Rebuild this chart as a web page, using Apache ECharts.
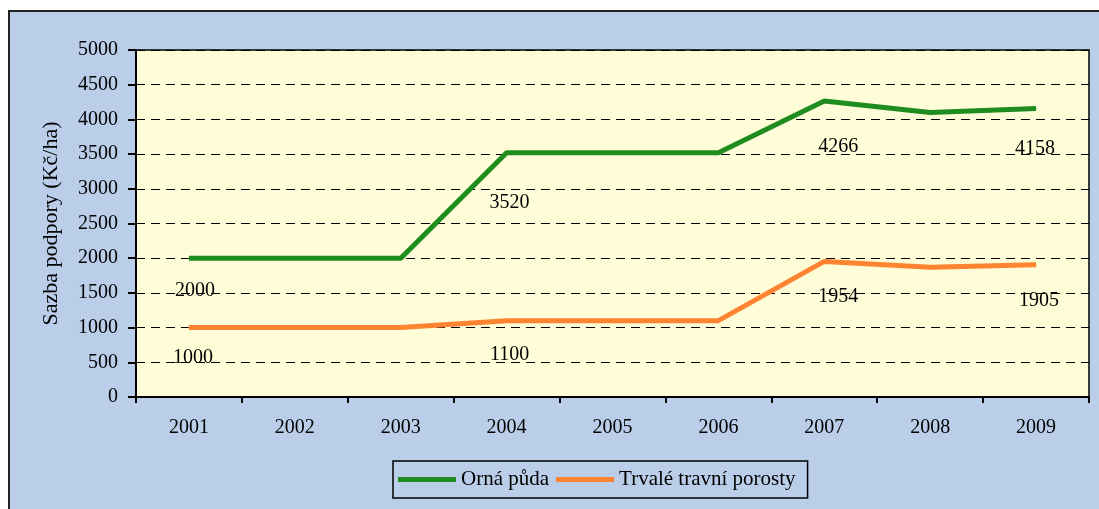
<!DOCTYPE html>
<html>
<head>
<meta charset="utf-8">
<script src="https://cdn.jsdelivr.net/npm/echarts@6/dist/echarts.min.js"></script>
<style>
  html, body { margin: 0; padding: 0; background: #fff; overflow: hidden; }
  #frame {
    position: absolute; left: 8px; top: 10px; width: 1100px; height: 510px;
    background: #bacde9; border: 2px solid #222;
  }
  #chart { position: absolute; left: 0; top: 0; width: 1099px; height: 509px; }
</style>
</head>
<body>
<div id="frame"></div>
<div id="chart"></div>
<script>
// data
const years = ['2001', '2002', '2003', '2004', '2005', '2006', '2007', '2008', '2009']
const ornaPuda = [2000, 2000, 2000, 3520, 3520, 3520, 4266, 4100, 4158]
const travniPorosty = [1000, 1000, 1000, 1100, 1100, 1100, 1954, 1870, 1905]
const labeledPoints = [0, 3, 6, 8]
const yTicks = [0, 500, 1000, 1500, 2000, 2500, 3000, 3500, 4000, 4500, 5000]

// label placement (styling only): [distance below point, x shift]
const ornaLabelPos = { 0: [22, 6], 3: [40, 3], 6: [35, 14], 8: [30, -1] }
const travniLabelPos = { 0: [20, 4], 3: [24, 3], 6: [25, 14], 8: [25, 3] }

const font = '"Liberation Serif", "Times New Roman", serif'

function buildData(values, placement) {
  return values.map((v, i) => {
    if (!labeledPoints.includes(i)) return { value: v, label: { show: false } }
    const [dist, dx] = placement[i]
    return {
      value: v,
      label: {
        show: true,
        position: 'bottom',
        distance: dist,
        offset: [dx, 0],
      },
    }
  })
}

function seriesOf(name, color, values, placement) {
  return {
    name,
    type: 'line',
    symbol: 'circle',
    symbolSize: 1,
    showAllSymbol: true,
    itemStyle: { color },
    color,
    lineStyle: { width: 5, color },
    label: {
      show: false,
      color: '#000',
      fontFamily: font,
      fontSize: 20,
      formatter: (p) => String(p.value),
    },
    emphasis: { disabled: true },
    data: buildData(values, placement),
  }
}

const chart = echarts.init(document.getElementById('chart'))

chart.setOption({
  animation: false,
  backgroundColor: 'transparent',
  grid: {
    left: 136,
    top: 50,
    width: 953,
    height: 347,
    show: true,
    backgroundColor: '#fffdd8',
    borderColor: '#000',
    borderWidth: 1.5,
  },
  legend: {
    left: 393,
    top: 461,
    padding: [8, 12, 8, 5],
    itemGap: 7,
    itemWidth: 58,
    itemHeight: 5,
    icon: 'rect',
    borderColor: '#000',
    borderWidth: 1.5,
    textStyle: { fontFamily: font, fontSize: 21, color: '#000' },
    data: ['Orná půda', 'Trvalé travní porosty'],
  },
  xAxis: {
    type: 'category',
    data: years,
    boundaryGap: true,
    axisLine: { lineStyle: { color: '#000', width: 2 } },
    axisTick: { show: true, length: 6, lineStyle: { color: '#000', width: 2 } },
    axisLabel: { color: '#000', fontFamily: font, fontSize: 20, margin: 21 },
    splitLine: { show: false },
  },
  yAxis: {
    type: 'value',
    min: yTicks[0],
    max: yTicks[yTicks.length - 1],
    interval: 500,
    name: 'Sazba podpory (Kč/ha)',
    nameLocation: 'middle',
    nameGap: 74,
    nameTextStyle: { fontFamily: font, fontSize: 22, color: '#000' },
    axisLine: { show: true, lineStyle: { color: '#000', width: 2 } },
    axisTick: { show: true, length: 8, lineStyle: { color: '#000', width: 2 } },
    axisLabel: {
      color: '#000',
      fontFamily: font,
      fontSize: 20,
      margin: 18,
      formatter: (v) => String(v),
    },
    splitLine: { lineStyle: { color: '#000', width: 1, type: [9, 6] } },
  },
  series: [
    seriesOf('Orná půda', '#1e8c1e', ornaPuda, ornaLabelPos),
    seriesOf('Trvalé travní porosty', '#ff8431', travniPorosty, travniLabelPos),
  ],
})
</script>
</body>
</html>
